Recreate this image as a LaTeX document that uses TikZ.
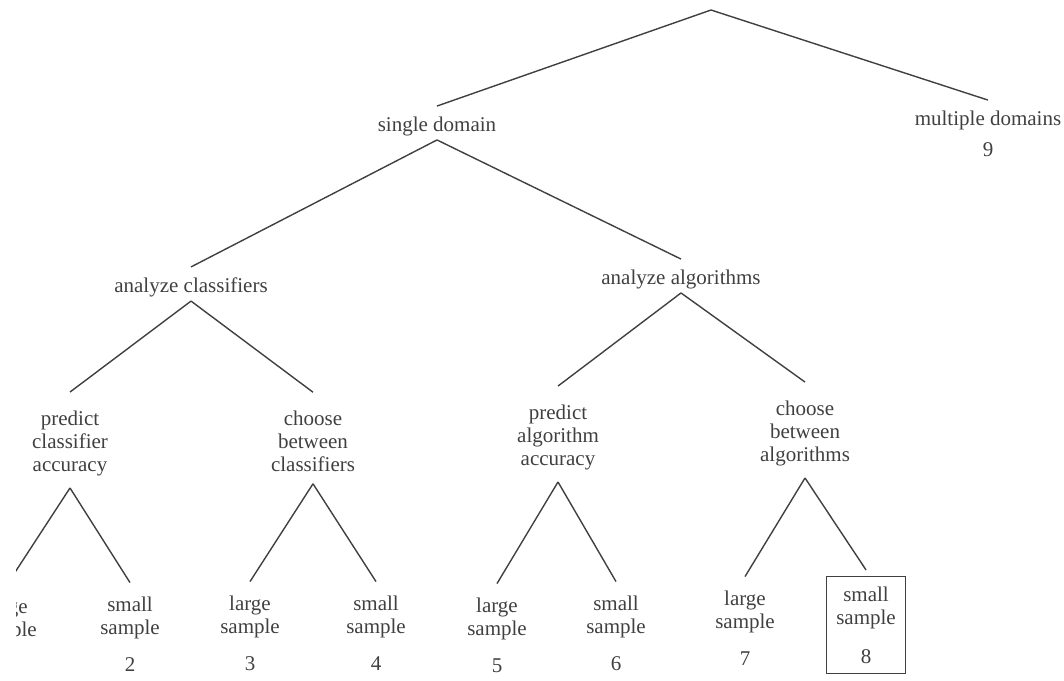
\documentclass[tikz,border=0pt]{standalone}
\usepackage{fontspec}
\setmainfont{Liberation Serif}
\usetikzlibrary{positioning}

\begin{document}
\begin{tikzpicture}[x=0.5pt,y=-0.5pt,
    every node/.style={text=black!75,font=\fontsize{10.5}{11.5}\selectfont},
    topic/.style={inner xsep=2pt,inner ysep=2pt},
    task/.style={align=center,inner ysep=6pt},
    leaf/.style={align=center,inner ysep=4pt},
    num/.style={inner sep=2pt},
    branch/.style={draw=black!75,line width=0.7pt}]
    \useasboundingbox (0,0) rectangle (1064,680);
    % the scan cuts the leftmost leaf
    \clip (16,0) rectangle (1064,680);

    \coordinate (root) at (711,10);
    \node[topic] (sd) at (437,126) {single domain};
    \node[topic] (md) at (988,120) {multiple domains};
    \node[num] (n9) [below=2pt of md] {9};

    \node[topic] (ac) at (191,287) {analyze classifiers};
    \node[topic] (aa) at (681,279) {analyze algorithms};

    \node[task] (pca) at (70,443) {predict\\classifier\\accuracy};
    \node[task] (cbc) at (313,441) {choose\\between\\classifiers};
    \node[task] (paa) at (558,437) {predict\\algorithm\\accuracy};
    \node[task] (cba) at (805,433) {choose\\between\\algorithms};

    \node[leaf] (l1) at (7,620) {large\\sample};
    \node[leaf] (l2) at (130,618) {small\\sample};
    \node[leaf] (l3) at (250,617) {large\\sample};
    \node[leaf] (l4) at (376,617) {small\\sample};
    \node[leaf] (l5) at (497,619) {large\\sample};
    \node[leaf] (l6) at (616,617) {small\\sample};
    \node[leaf] (l7) at (745,612) {large\\sample};
    \node[leaf,draw=black!75,line width=0.7pt,inner xsep=5pt,inner ysep=5pt] (l8) at (866,625) {small\\sample\\[8pt]8};

    \node[num] (n2) [below=3pt of l2] {2};
    \node[num] (n3) [below=3pt of l3] {3};
    \node[num] (n4) [below=3pt of l4] {4};
    \node[num] (n5) [below=3pt of l5] {5};
    \node[num] (n6) [below=3pt of l6] {6};
    \node[num] (n7) [below=3pt of l7] {7};

    \draw[branch] (root) -- ([yshift=3pt]sd.north);
    \draw[branch] (root) -- ([yshift=3pt]md.north);
    \draw[branch] (sd.south) -- ([yshift=3pt]ac.north);
    \draw[branch] (sd.south) -- ([yshift=3pt]aa.north);
    \draw[branch] (ac.south) -- ([yshift=3pt]pca.north);
    \draw[branch] (ac.south) -- ([yshift=3pt]cbc.north);
    \draw[branch] (aa.south) -- ([yshift=3pt]paa.north);
    \draw[branch] (aa.south) -- ([yshift=3pt]cba.north);
    \draw[branch] (pca.south) -- ([yshift=3pt]l1.north);
    \draw[branch] (pca.south) -- ([yshift=3pt]l2.north);
    \draw[branch] (cbc.south) -- ([yshift=3pt]l3.north);
    \draw[branch] (cbc.south) -- ([yshift=3pt]l4.north);
    \draw[branch] (paa.south) -- ([yshift=3pt]l5.north);
    \draw[branch] (paa.south) -- ([yshift=3pt]l6.north);
    \draw[branch] (cba.south) -- ([yshift=3pt]l7.north);
    \draw[branch] (cba.south) -- ([yshift=3pt]l8.north);
\end{tikzpicture}
\end{document}
